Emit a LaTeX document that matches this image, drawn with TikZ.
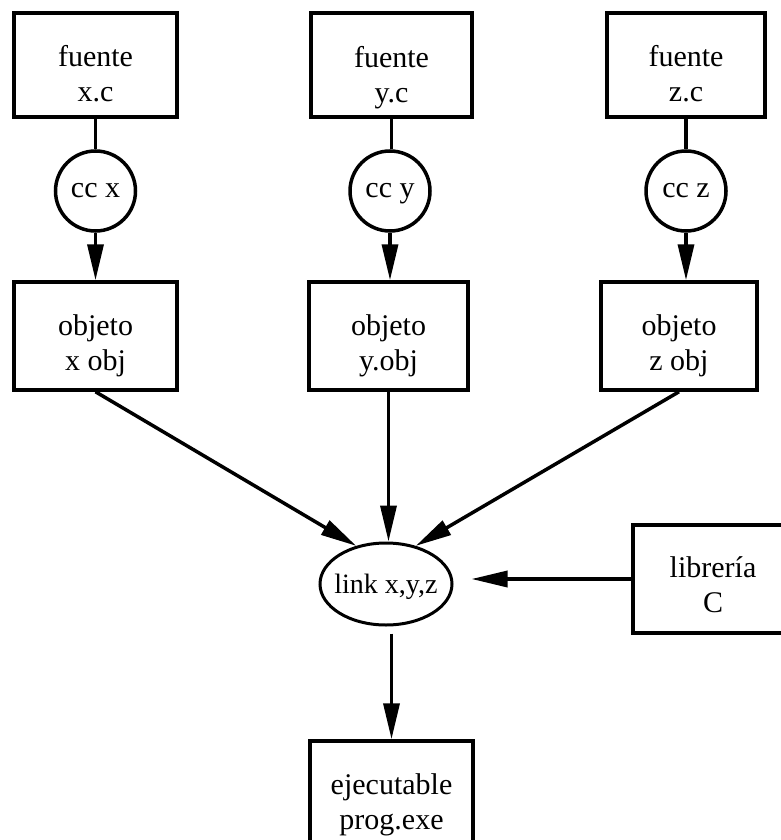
\documentclass[tikz,border=0pt]{standalone}
\usepackage{fontspec}
\setmainfont{Liberation Serif}
\usetikzlibrary{arrows.meta,shapes.geometric}
\begin{document}
\begin{tikzpicture}[x=1pt,y=-1pt,
  box/.style={draw=black,line width=3.5pt,rectangle,minimum height=104pt,inner sep=0pt},
  obox/.style={box,minimum height=108pt},
  circ/.style={draw=black,line width=3.5pt,circle,minimum size=80pt,inner sep=0pt,
    text height=13.5pt,text depth=0pt,font=\fontsize{30}{35}\selectfont},
  lbl/.style={align=center,inner sep=0pt,font=\fontsize{30}{35}\selectfont},
  conn/.style={line width=3.5pt,draw=black},
  arr/.style={conn,-{Triangle[length=36pt 0 0,width=16pt 0 0]}}]
\clip (0,0) rectangle (781,840);
\fill[white] (0,0) rectangle (781,840);
% source boxes
\node[box,minimum width=163pt] (fx) at (95.5,65) {};
\node[box,minimum width=161pt] (fy) at (391.5,65) {};
\node[box,minimum width=158pt] (fz) at (686,65) {};
\node[lbl] (fxt) at (95.5,74) {fuente\\x.c};
\node[lbl] (fyt) at (391.5,77.5) {fuente\\y.c};
\node[lbl] (fzt) at (686,74) {fuente\\z.c};
% compile circles
\node[circ] (cx) at (95.5,191) {cc x};
\node[circ] (cy) at (390,191) {cc y};
\node[circ] (cz) at (686,191) {cc z};
% object boxes
\node[obox,minimum width=163pt] (ox) at (95.5,336) {};
\node[obox,minimum width=159pt] (oy) at (388.5,336) {};
\node[obox,minimum width=156pt] (oz) at (679,336) {};
\node[lbl] (oxt) at (95.5,346) {objeto\\x obj};
\node[lbl] (oyt) at (388.5,346) {objeto\\y.obj};
\node[lbl] (ozt) at (679,346) {objeto\\z obj};
% link ellipse
\node[draw=black,line width=3pt,ellipse,minimum width=132pt,minimum height=82pt,inner sep=0pt] (link) at (386,584) {};
\node[lbl,text height=20pt,text depth=6pt,font=\fontsize{28}{35}\selectfont] (linkt) at (386,586) {link x,y,z};
% library box
\node[obox,minimum width=160pt] (lib) at (713,579) {};
\node[lbl] (libt) at (713,585) {librería\\C};
% executable box
\node[obox,minimum width=163pt] (ex) at (391.5,795) {};
\node[lbl] (ext) at (391.5,805) {ejecutable\\prog.exe};
% connectors
\draw[conn] (fx.south) -- (cx.north);
\draw[conn] (fy.south) -- (fy.south |- cy.north);
\draw[conn] (fz.south) -- (cz.north);
\draw[arr] (cx.south) -- (ox.north);
\draw[arr] (cy.south) -- (cy.south |- oy.north);
\draw[arr] (cz.south) -- (cz.south |- oz.north);
\draw[arr] (ox.south) -- (link.128);
\draw[arr] (oy.south) -- (oy.south |- link.north);
\draw[arr] (oz.south) -- (link.52);
\draw[arr,shorten >=18pt] (lib.west) -- (lib.west -| link.east);
\draw[arr,shorten <=7pt] (link.south -| ex.north) -- (ex.north);
\end{tikzpicture}
\end{document}
